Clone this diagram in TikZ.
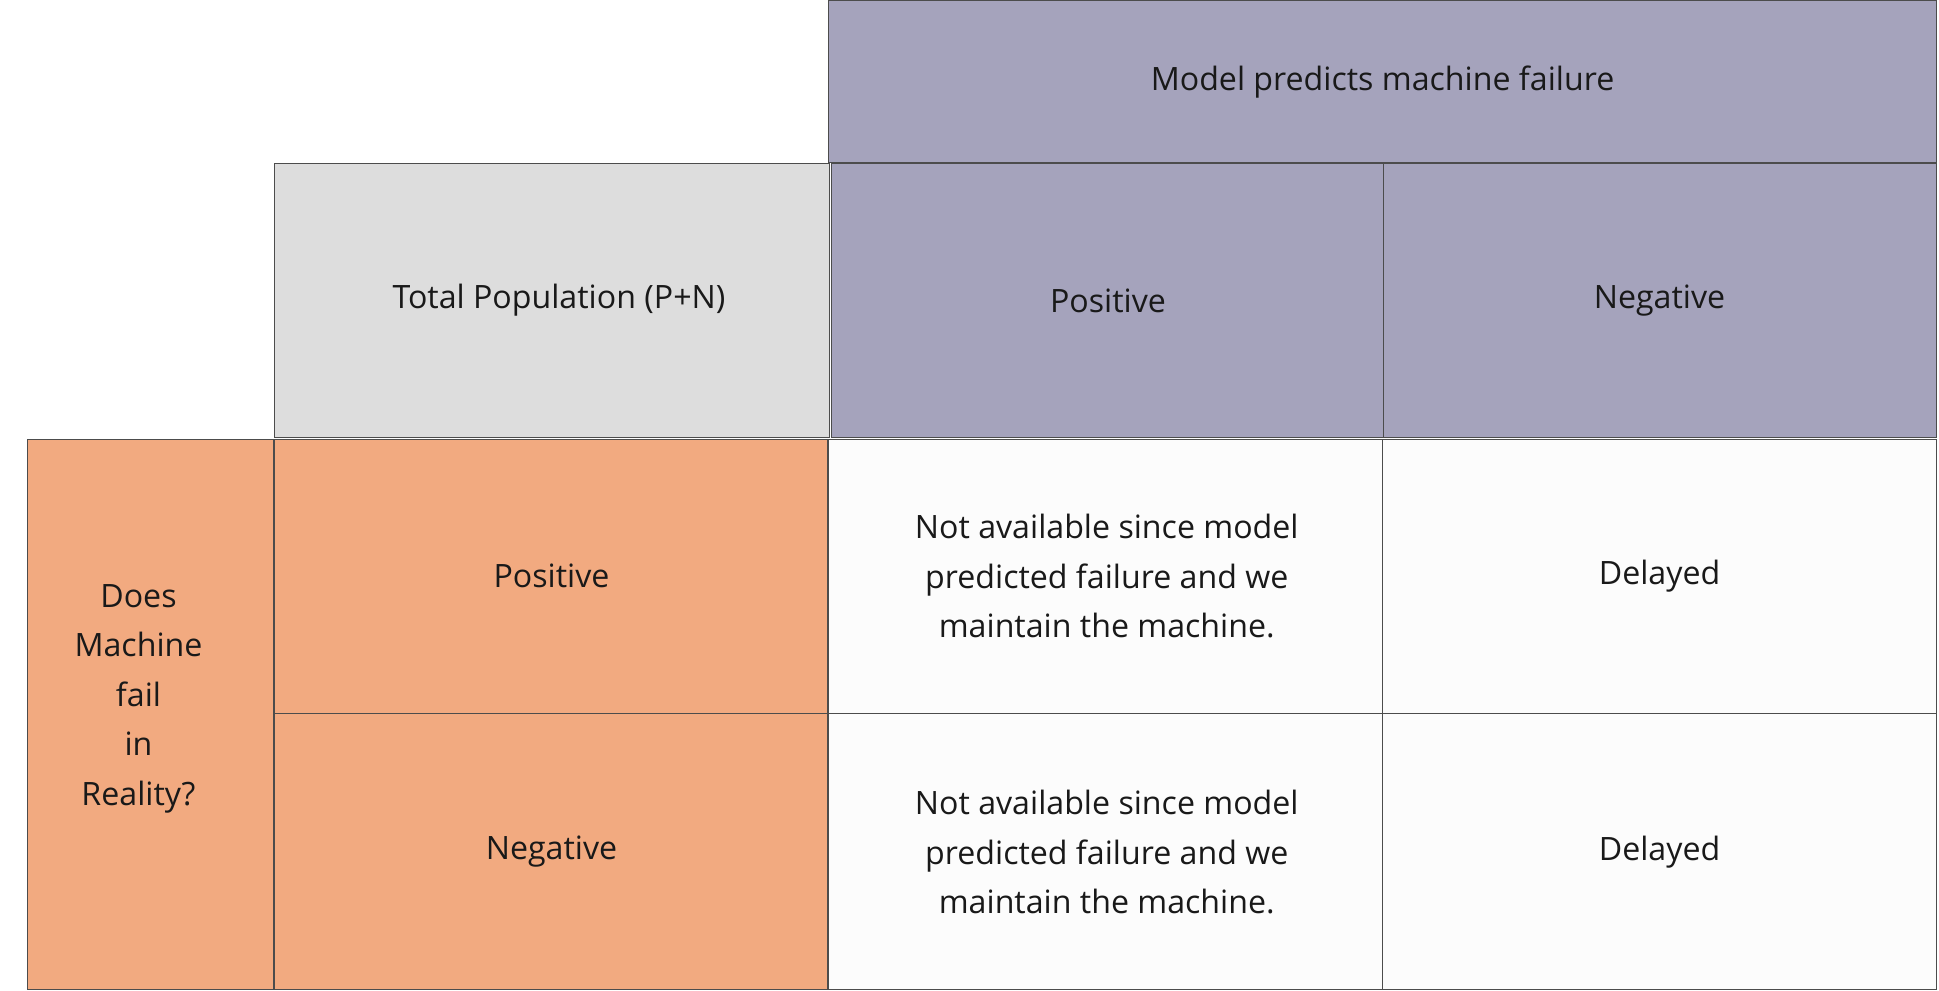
\documentclass[tikz,border=0pt]{standalone}
\usepackage{fontspec}
\setmainfont{Open Sans}
\definecolor{hdr}{HTML}{A5A3BC}
\definecolor{tot}{HTML}{DDDDDD}
\definecolor{org}{HTML}{F2AA80}
\definecolor{cel}{HTML}{FCFCFC}
\begin{document}
\begin{tikzpicture}[x=1pt,y=-1pt,
  cell/.style={draw=black!70,line width=0.8pt},
  txt/.style={font=\fontsize{26}{40}\selectfont,align=center,text=black!90}]
\useasboundingbox (0,0) rectangle (1568,801);
\fill[white] (0,0) rectangle (1568,801);
\draw[cell,fill=hdr] (670,0) rectangle (1566,131);
\draw[cell,fill=tot] (222,132) rectangle (671,354);
\draw[cell,fill=hdr] (672,132) rectangle (1119,354);
\draw[cell,fill=hdr] (1119,132) rectangle (1566,354);
\draw[cell,fill=org] (22,355) rectangle (221,800);
\draw[cell,fill=org] (222,355) rectangle (669,577);
\draw[cell,fill=org] (222,577) rectangle (669,800);
\draw[cell,fill=cel] (670,355) rectangle (1118,577);
\draw[cell,fill=cel] (1118,355) rectangle (1566,577);
\draw[cell,fill=cel] (670,577) rectangle (1118,800);
\draw[cell,fill=cel] (1118,577) rectangle (1566,800);
\node[txt] (h) at (1118,66) {Model predicts machine failure};
\node[txt] (tp) at (452,243) {Total Population (P+N)};
\node[txt] (pp) at (896,243) {Positive};
\node[txt] (pn) at (1342,243) {Negative};
\node[txt] (q) at (112,565) {Does\\Machine\\fail\\in\\Reality?};
\node[txt] (rp) at (446,466) {Positive};
\node[txt] (rn) at (446,689) {Negative};
\node[txt] (c1) at (895,466) {Not available since model\\predicted failure and we\\maintain the machine.};
\node[txt] (c2) at (1342,466) {Delayed};
\node[txt] (c3) at (895,689) {Not available since model\\predicted failure and we\\maintain the machine.};
\node[txt] (c4) at (1342,689) {Delayed};
\end{tikzpicture}
\end{document}
